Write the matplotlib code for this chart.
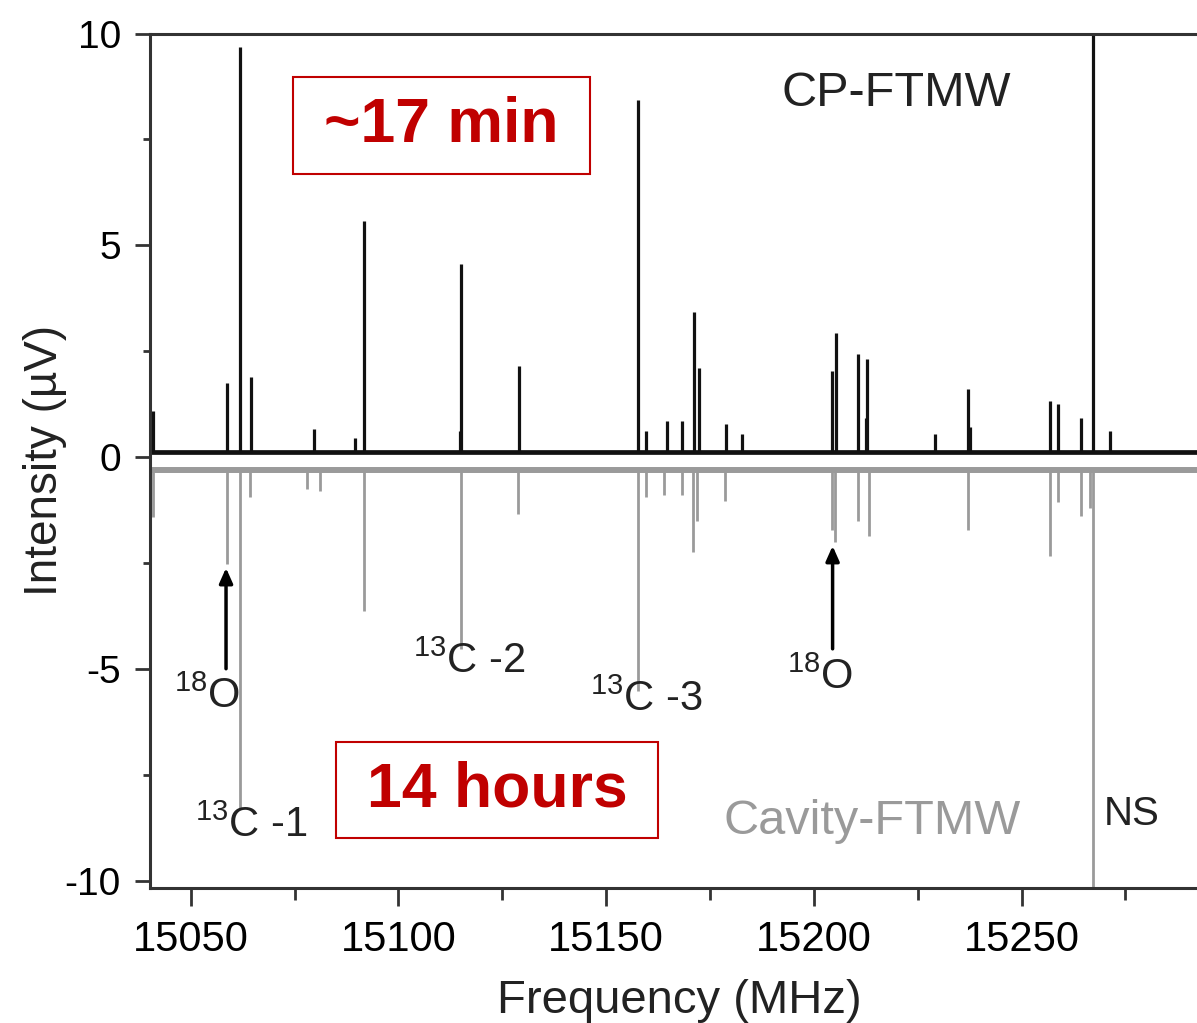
import matplotlib
matplotlib.use('Agg')
import matplotlib.pyplot as plt
from matplotlib.patches import Rectangle

plt.rcParams['font.family'] = ['Liberation Sans', 'DejaVu Sans']
plt.rcParams['mathtext.fontset'] = 'custom'
plt.rcParams['mathtext.rm'] = 'Liberation Sans'

# CP-FTMW spectrum (upper trace), peak positions in MHz and heights in uV
cp_freq = [15041.0, 15058.7, 15061.9, 15064.4, 15079.7, 15089.5, 15091.7,
           15114.8, 15115.0, 15129.0, 15157.6, 15159.7, 15164.6, 15168.2,
           15171.1, 15172.3, 15178.8, 15182.8, 15204.3, 15205.3, 15210.5,
           15212.5, 15212.9, 15229.1, 15237.2, 15237.5, 15256.8, 15258.8,
           15264.4, 15267.2, 15271.2]
cp_height = [0.97, 1.64, 9.56, 1.78, 0.54, 0.34, 5.46,
             0.5, 4.44, 2.03, 8.32, 0.5, 0.73, 0.73,
             3.31, 1.99, 0.66, 0.43, 1.92, 2.82, 2.32,
             0.8, 2.19, 0.43, 1.48, 0.6, 1.2, 1.13,
             0.81, 12.0, 0.5]
cp_base = 0.12

# Cavity-FTMW spectrum (lower trace, plotted inverted)
cav_freq = [15041.0, 15058.8, 15061.9, 15064.3, 15078.0, 15081.0, 15091.7,
            15115.0, 15128.8, 15157.6, 15159.7, 15163.9, 15168.2, 15171.0,
            15171.8, 15178.7, 15204.3, 15205.1, 15210.5, 15213.3, 15237.2,
            15256.8, 15258.8, 15264.4, 15266.4, 15267.2]
cav_height = [-1.11, -2.22, -8.0, -0.64, -0.45, -0.5, -3.33,
              -4.23, -1.04, -5.22, -0.64, -0.6, -0.6, -1.95,
              -1.2, -0.73, -1.43, -1.71, -1.2, -1.55, -1.43,
              -2.03, -0.76, -1.1, -0.9, -12.0]
cav_base = -0.3

xmin, xmax = 15040.2, 15295.1
ymin, ymax = -10.17, 10.0

fig = plt.figure(figsize=(11.97, 10.23), dpi=100)
ax = fig.add_axes([150 / 1197, 135 / 1023, 1059 / 1197, 854.5 / 1023])

black = '#111111'
grey = '#9a9a9a'

# baselines
ax.plot([xmin, xmax], [cav_base, cav_base], color=grey, lw=4.3, solid_capstyle='butt')
ax.plot([xmin, xmax], [cp_base, cp_base], color=black, lw=3.4, solid_capstyle='butt')

# peaks
ax.vlines(cav_freq, cav_base, [cav_base + h for h in cav_height], color=grey, lw=2.0)
ax.vlines(cp_freq, cp_base, [cp_base + h for h in cp_height], color=black, lw=2.3)

ax.set_xlim(xmin, xmax)
ax.set_ylim(ymin, ymax)

ax.set_xticks([15050, 15100, 15150, 15200, 15250])
ax.set_xticks([15075, 15125, 15175, 15225, 15275], minor=True)
ax.set_yticks([-10, -5, 0, 5, 10])
ax.set_yticks([-7.5, -2.5, 2.5, 7.5], minor=True)
ax.set_yticklabels(['-10', '-5', '0', '5', '10'])

ax.tick_params(axis='x', which='major', direction='out', length=13, width=2,
               labelsize=30, pad=10, color='#333333')
ax.tick_params(axis='x', which='minor', direction='out', length=8.5, width=2,
               color='#333333')
ax.tick_params(axis='y', which='major', direction='out', length=11, width=2,
               labelsize=28, pad=10, color='#333333')
ax.tick_params(axis='y', which='minor', direction='out', length=5, width=2,
               color='#333333')
for s in ax.spines.values():
    s.set_linewidth(2.2)
    s.set_color('#333333')

ax.set_xlabel('Frequency (MHz)', fontsize=34, labelpad=14, color='#222222')
ax.set_ylabel('Intensity (\u00b5V)', fontsize=33, labelpad=-2, color='#222222')

# labels
ax.text(15219.8, 8.58, 'CP-FTMW', fontsize=35, color='#222222', ha='center', va='center')
ax.text(15214.0, -8.6, 'Cavity-FTMW', fontsize=35, color=grey, ha='center', va='center')
ax.text(15276.6, -8.42, 'NS', fontsize=29, color='#222222', ha='center', va='center')

lab = r'$\mathregular{^{%s}}$%s'
ax.text(15064.5, -8.7, lab % ('13', 'C -1'), fontsize=30, color='#222222', ha='center', va='center')
ax.text(15117.0, -4.82, lab % ('13', 'C -2'), fontsize=30, color='#222222', ha='center', va='center')
ax.text(15159.7, -5.72, lab % ('13', 'C -3'), fontsize=30, color='#222222', ha='center', va='center')
ax.text(15053.9, -5.65, lab % ('18', 'O'), fontsize=30, color='#222222', ha='center', va='center')
ax.text(15201.6, -5.2, lab % ('18', 'O'), fontsize=30, color='#222222', ha='center', va='center')

arrow = dict(arrowstyle='-|>,head_length=0.9,head_width=0.4', color='black', lw=2.5)
ax.annotate('', xy=(15058.5, -2.55), xytext=(15058.5, -5.06), arrowprops=arrow)
ax.annotate('', xy=(15204.5, -2.03), xytext=(15204.5, -4.59), arrowprops=arrow)

# red boxes
red = '#c00000'
for (x0, y0, x1, y1), txt in [((293, 77, 590, 174), '~17 min'),
                              ((336, 742, 658, 838), '14 hours')]:
    fig.patches.append(Rectangle((x0 / 1197, 1 - y1 / 1023), (x1 - x0) / 1197,
                                 (y1 - y0) / 1023, transform=fig.transFigure,
                                 fill=False, edgecolor=red, lw=1.5, zorder=5))
    fig.text((x0 + x1) / 2 / 1197, 1 - (y0 + y1) / 2 / 1023, txt, fontsize=45,
             fontweight='bold', color=red, ha='center', va='center')

fig.savefig('out.png', dpi=100)
